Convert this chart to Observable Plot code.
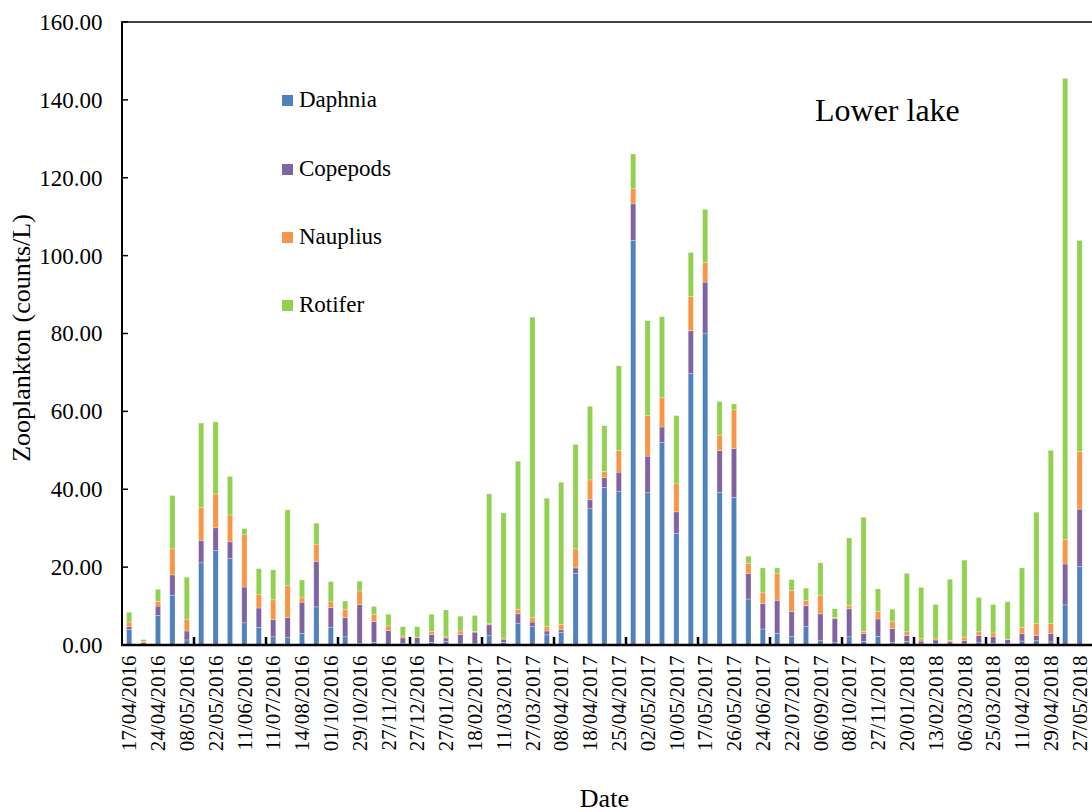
<!DOCTYPE html>
<html><head><meta charset="utf-8">
<script src="https://cdn.jsdelivr.net/npm/d3@7"></script>
<script src="https://cdn.jsdelivr.net/npm/@observablehq/plot@0.6"></script>
<style>
body{margin:0;background:#fff;}
#wrap{position:relative;width:1092px;height:812px;font-family:"Liberation Serif","Times New Roman",serif;color:#000;}
.leg{position:absolute;left:282px;height:22px;line-height:22px;font-size:23px;display:flex;align-items:center;white-space:nowrap;font-family:"Liberation Serif","Times New Roman",serif;}
.leg span{font-family:"Liberation Serif","Times New Roman",serif;}
.sw{width:11px;height:11px;margin-right:6px;flex:none;}
#title{position:absolute;left:815px;top:94px;font-size:32px;line-height:32px;white-space:nowrap;font-family:"Liberation Serif","Times New Roman",serif;}
</style></head><body><div id="wrap"></div>
<script>
// Tick labels (every other bar is labelled)
const dateLabels = ["17/04/2016","24/04/2016","08/05/2016","22/05/2016","11/06/2016","11/07/2016","14/08/2016","01/10/2016","29/10/2016","27/11/2016","27/12/2016","27/01/2017","18/02/2017","11/03/2017","27/03/2017","08/04/2017","18/04/2017","25/04/2017","02/05/2017","10/05/2017","17/05/2017","26/05/2017","24/06/2017","22/07/2017","06/09/2017","08/10/2017","27/11/2017","20/01/2018","13/02/2018","06/03/2018","25/03/2018","11/04/2018","29/04/2018","27/05/2018"];
const species = ["Daphnia","Copepods","Nauplius","Rotifer"];
const colors = ["#4f81bd","#8064a2","#f79646","#92d050"];
const yTicks = [0,20,40,60,80,100,120,140,160];

const daphnia = [4.0,0.2,7.6,12.8,1.3,21.1,24.3,22.2,5.7,4.5,2.1,1.9,3.0,9.8,4.6,2.1,0.4,0.7,0.2,0.4,0.3,0.7,0.9,0.3,0.3,2.4,0.7,5.6,4.7,2.6,3.2,18.4,35.0,40.5,39.4,103.9,39.1,52.0,28.7,69.7,80.1,39.2,37.9,11.8,4.1,3.0,2.2,4.7,1.1,0.6,2.1,0.9,2.2,0.7,0.9,0.3,0.3,0.2,0.3,0.6,0.4,0.3,1.0,1.1,0.8,10.3,20.2];
const copepods = [0.8,0.4,2.4,5.2,2.3,5.8,5.8,4.3,9.2,5.0,4.4,5.2,8.0,11.7,5.0,5.0,10.0,5.3,3.5,1.4,1.6,2.0,0.9,2.4,3.0,2.8,0.8,2.4,1.2,1.0,0.7,1.4,2.4,2.5,5.0,9.4,9.4,4.0,5.5,11.0,13.1,10.7,12.6,6.5,6.5,8.5,6.4,5.4,6.9,6.2,7.2,2.0,4.5,3.5,1.5,0.7,1.0,0.6,0.8,1.8,1.7,1.1,1.9,1.3,2.1,10.5,14.7];
const nauplius = [1.1,0.4,1.2,6.7,2.9,8.4,8.7,6.9,13.4,3.4,5.1,8.1,1.3,4.4,1.5,2.1,3.5,1.8,1.2,0.5,0.1,0.8,0.3,0.9,0.2,0.3,0.3,1.2,1.1,1.1,1.4,4.9,5.0,1.6,5.6,3.9,10.5,7.5,7.2,8.8,5.0,4.0,9.9,2.6,2.8,6.8,5.4,1.4,4.8,0.3,0.8,0.6,1.9,1.8,1.0,0.6,0.5,0.4,0.9,1.0,1.0,0.1,1.6,3.2,2.6,6.3,14.8];
const rotifer = [2.5,0.4,3.1,13.7,10.9,21.7,18.5,9.9,1.6,6.7,7.7,19.5,4.4,5.4,5.2,2.1,2.5,2.1,3.0,2.4,2.7,4.4,6.9,3.8,4.1,33.3,32.1,38.0,77.2,33.0,36.5,26.8,18.9,11.7,21.7,8.9,24.3,20.8,17.5,11.3,13.7,8.6,1.5,1.9,6.4,1.5,2.8,3.1,8.3,2.2,17.4,29.3,5.8,3.2,15.0,13.2,8.6,15.7,19.8,8.8,7.3,9.6,15.3,28.5,44.5,118.4,54.2];

const seriesValues = [daphnia, copepods, nauplius, rotifer];
const n = daphnia.length;
const idx = d3.range(n);
const rows = [];
idx.forEach(i => species.forEach((s, k) => rows.push({i, species: s, value: seriesValues[k][i]})));
const xTickAfter = d3.range(4, n - 1, 5);
const FONT = '"Liberation Serif","Times New Roman",serif';

function axesFrame(index, scales, values, dims) {
  const {x, y} = scales;
  const L = dims.marginLeft, R = dims.width, T = y(160), B = y(0);
  const g = d3.create("svg:g").attr("fill", "none").attr("stroke", "#000");
  g.append("line").attr("x1", L).attr("x2", L).attr("y1", T - 0.75).attr("y2", B).attr("stroke-width", 2);
  g.append("line").attr("x1", L).attr("x2", R).attr("y1", T).attr("y2", T).attr("stroke-width", 1.5);
  g.append("line").attr("x1", L - 1).attr("x2", R).attr("y1", B).attr("y2", B).attr("stroke-width", 2.5);
  yTicks.forEach(v => g.append("line").attr("x1", L).attr("x2", L + 6).attr("y1", y(v)).attr("y2", y(v)).attr("stroke-width", 1.5));
  const bw = x.bandwidth();
  const c = i => x(i) + bw / 2;
  xTickAfter.forEach(i => {
    const px = (c(i) + c(i + 1)) / 2;
    g.append("line").attr("x1", px).attr("x2", px).attr("y1", B).attr("y2", B - 8).attr("stroke-width", 2.5);
  });
  g.append("text").attr("fill", "#000").attr("stroke", "none").attr("font-size", 26).attr("font-family", FONT).attr("text-anchor", "middle")
    .attr("transform", `translate(30,338) rotate(-90)`).text("Zooplankton (counts/L)");
  g.append("text").attr("fill", "#000").attr("stroke", "none").attr("font-size", 26).attr("font-family", FONT).attr("text-anchor", "middle")
    .attr("x", (L + dims.width - dims.marginRight) / 2).attr("y", 807).text("Date");
  return g.node();
}

const plot = Plot.plot({
  width: 1092, height: 812,
  marginLeft: 122, marginRight: 5.2, marginTop: 22, marginBottom: 167,
  style: {fontFamily: FONT, fontSize: "22px", color: "#000", background: "white", overflow: "visible"},
  x: {type: "band", domain: idx, paddingInner: 0.64, paddingOuter: 0.32, round: false},
  y: {domain: [0, 160]},
  color: {domain: species, range: colors},
  marks: [
    Plot.barY(rows, {x: "i", y: "value", fill: "species", stroke: "white", strokeOpacity: 0.45, strokeWidth: 0.6}),
    Plot.axisY(yTicks, {tickSize: 0, tickPadding: 20, tickFormat: d3.format(".2f"), fontSize: 23, label: null}),
    Plot.axisX(d3.range(0, n, 2), {tickSize: 0, tickPadding: 10, tickRotate: -90, tickFormat: i => dateLabels[i / 2], fontSize: 21, label: null}),
    axesFrame
  ]
});

const wrap = document.getElementById("wrap");
wrap.appendChild(plot);
const legendCenters = [100, 169, 237, 305];
species.forEach((s, k) => {
  const d = document.createElement("div");
  d.className = "leg";
  d.style.top = (legendCenters[k] - 11) + "px";
  d.innerHTML = `<span class="sw" style="background:${colors[k]}"></span><span>${s}</span>`;
  wrap.appendChild(d);
});
const t = document.createElement("div");
t.id = "title";
t.textContent = "Lower lake";
wrap.appendChild(t);
</script>
</body></html>
